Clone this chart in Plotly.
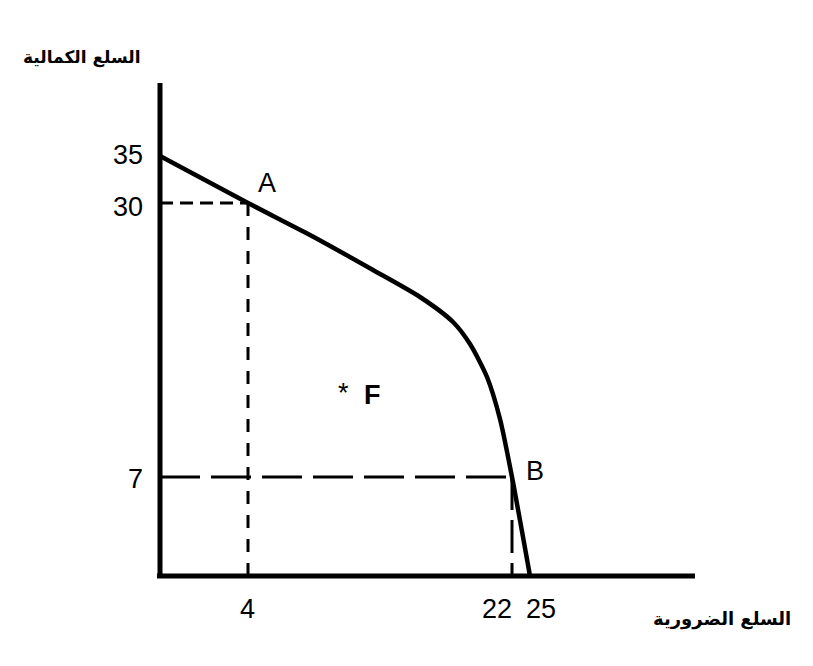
import plotly.graph_objects as go

# ─────────────────────────────────
# キャンバス設定（ページ余白 8px を差し引く）
# ─────────────────────────────────
PAGE_PAD = 8
W, H = 813 - PAGE_PAD, 666 - PAGE_PAD
M_L, M_R, M_T, M_B = 142, 108, 72, 80
PLOT_W = W - M_L - M_R
PLOT_H = H - M_T - M_B

# 図の座標は原点からの距離（図上の長さ、目盛りは等間隔ではない）
X_RANGE = [-10, PLOT_W - 10]
Y_RANGE = [-10, PLOT_H - 10]
X_AXIS_LEN = 535
Y_AXIS_LEN = 493

# 生産可能性曲線
curve_x = [0, 88, 150, 213, 260, 293, 310, 327, 340, 352, 370]
curve_y = [420, 373, 341, 306, 279, 254, 232, 199, 157, 99, 0]

# 点 A, B
point_A = (88, 373)
point_B = (352, 99)

# 目盛り
x_tick_pos = [88, 352, 370]
x_tick_text = ["4", "22", "25"]
y_tick_pos = [420, 373, 99]
y_tick_text = ["35", "30", "7"]

# 点 F
point_F = (212, 181)

x_title = "السلع الضرورية"
y_title = "السلع الكمالية"

LATIN = "Liberation Sans, Arial, sans-serif"
ARABIC = "DejaVu Sans, sans-serif"


def to_paper(px, py):
    """ページ上の画素位置 → paper 座標"""
    fx, fy = px - PAGE_PAD, py - PAGE_PAD
    return (fx - M_L) / PLOT_W, (H - M_B - fy) / PLOT_H


fig = go.Figure()

# 軸
fig.add_trace(go.Scatter(x=[-3, X_AXIS_LEN], y=[0, 0], mode="lines",
                         line=dict(color="black", width=5), hoverinfo="skip"))
fig.add_trace(go.Scatter(x=[0, 0], y=[-2, Y_AXIS_LEN], mode="lines",
                         line=dict(color="black", width=5), hoverinfo="skip"))

# 補助線（A）
fig.add_trace(go.Scatter(x=[0, point_A[0]], y=[point_A[1], point_A[1]], mode="lines",
                         line=dict(color="black", width=3, dash="13px,7px"), hoverinfo="skip"))
fig.add_trace(go.Scatter(x=[point_A[0], point_A[0]], y=[point_A[1], 0], mode="lines",
                         line=dict(color="black", width=3, dash="13px,11px"), hoverinfo="skip"))
# 補助線（B）
fig.add_trace(go.Scatter(x=[0, point_B[0]], y=[point_B[1], point_B[1]], mode="lines",
                         line=dict(color="black", width=3, dash="40px,11px"), hoverinfo="skip"))
fig.add_trace(go.Scatter(x=[point_B[0], point_B[0]], y=[point_B[1], 0], mode="lines",
                         line=dict(color="black", width=3, dash="33px,10px"), hoverinfo="skip"))

# 曲線
fig.add_trace(go.Scatter(x=curve_x, y=curve_y, mode="lines",
                         line=dict(color="black", width=4.5, shape="spline", smoothing=0.7),
                         hoverinfo="skip"))

ann = []
tick_font = dict(family=LATIN, size=27, color="black")

# y 目盛り
for v, t, dy in zip(y_tick_pos, y_tick_text, [1, -4, -2]):
    ann.append(dict(x=0, y=v, text=t, showarrow=False, xanchor="right", yanchor="middle",
                    xshift=-15, yshift=dy, font=tick_font))

# x 目盛り
x_anchor = ["center", "right", "left"]
x_shift = [-1, 2, -6]
for v, t, xa, dx in zip(x_tick_pos, x_tick_text, x_anchor, x_shift):
    ann.append(dict(x=v, y=0, text=t, showarrow=False, xanchor=xa, yanchor="middle",
                    xshift=dx, yshift=-33, font=tick_font))

# 点ラベル
ann.append(dict(x=point_A[0], y=point_A[1], text="A", showarrow=False,
                xshift=19, yshift=20, font=tick_font))
ann.append(dict(x=point_B[0], y=point_B[1], text="B", showarrow=False,
                xshift=23, yshift=6, font=tick_font))
ann.append(dict(x=point_F[0], y=point_F[1], text="*", showarrow=False,
                xshift=-29, yshift=2, font=tick_font))
ann.append(dict(x=point_F[0], y=point_F[1], text="<b>F</b>", showarrow=False,
                font=tick_font))

# 軸タイトル
ax, ay = to_paper(82, 57)
ann.append(dict(x=ax, y=ay, xref="paper", yref="paper", text=f"<b>{y_title}</b>",
                xanchor="center", yanchor="middle", showarrow=False,
                font=dict(family=ARABIC, size=17, color="black")))
ax, ay = to_paper(722, 619)
ann.append(dict(x=ax, y=ay, xref="paper", yref="paper", text=f"<b>{x_title}</b>",
                xanchor="center", yanchor="middle", showarrow=False,
                font=dict(family=ARABIC, size=18, color="black")))

fig.update_layout(
    width=W, height=H,
    margin=dict(l=M_L, r=M_R, t=M_T, b=M_B, pad=0),
    paper_bgcolor="white", plot_bgcolor="white",
    showlegend=False,
    xaxis=dict(range=X_RANGE, visible=False, fixedrange=True),
    yaxis=dict(range=Y_RANGE, visible=False, fixedrange=True),
    annotations=ann,
)

fig.write_html("out.html")
